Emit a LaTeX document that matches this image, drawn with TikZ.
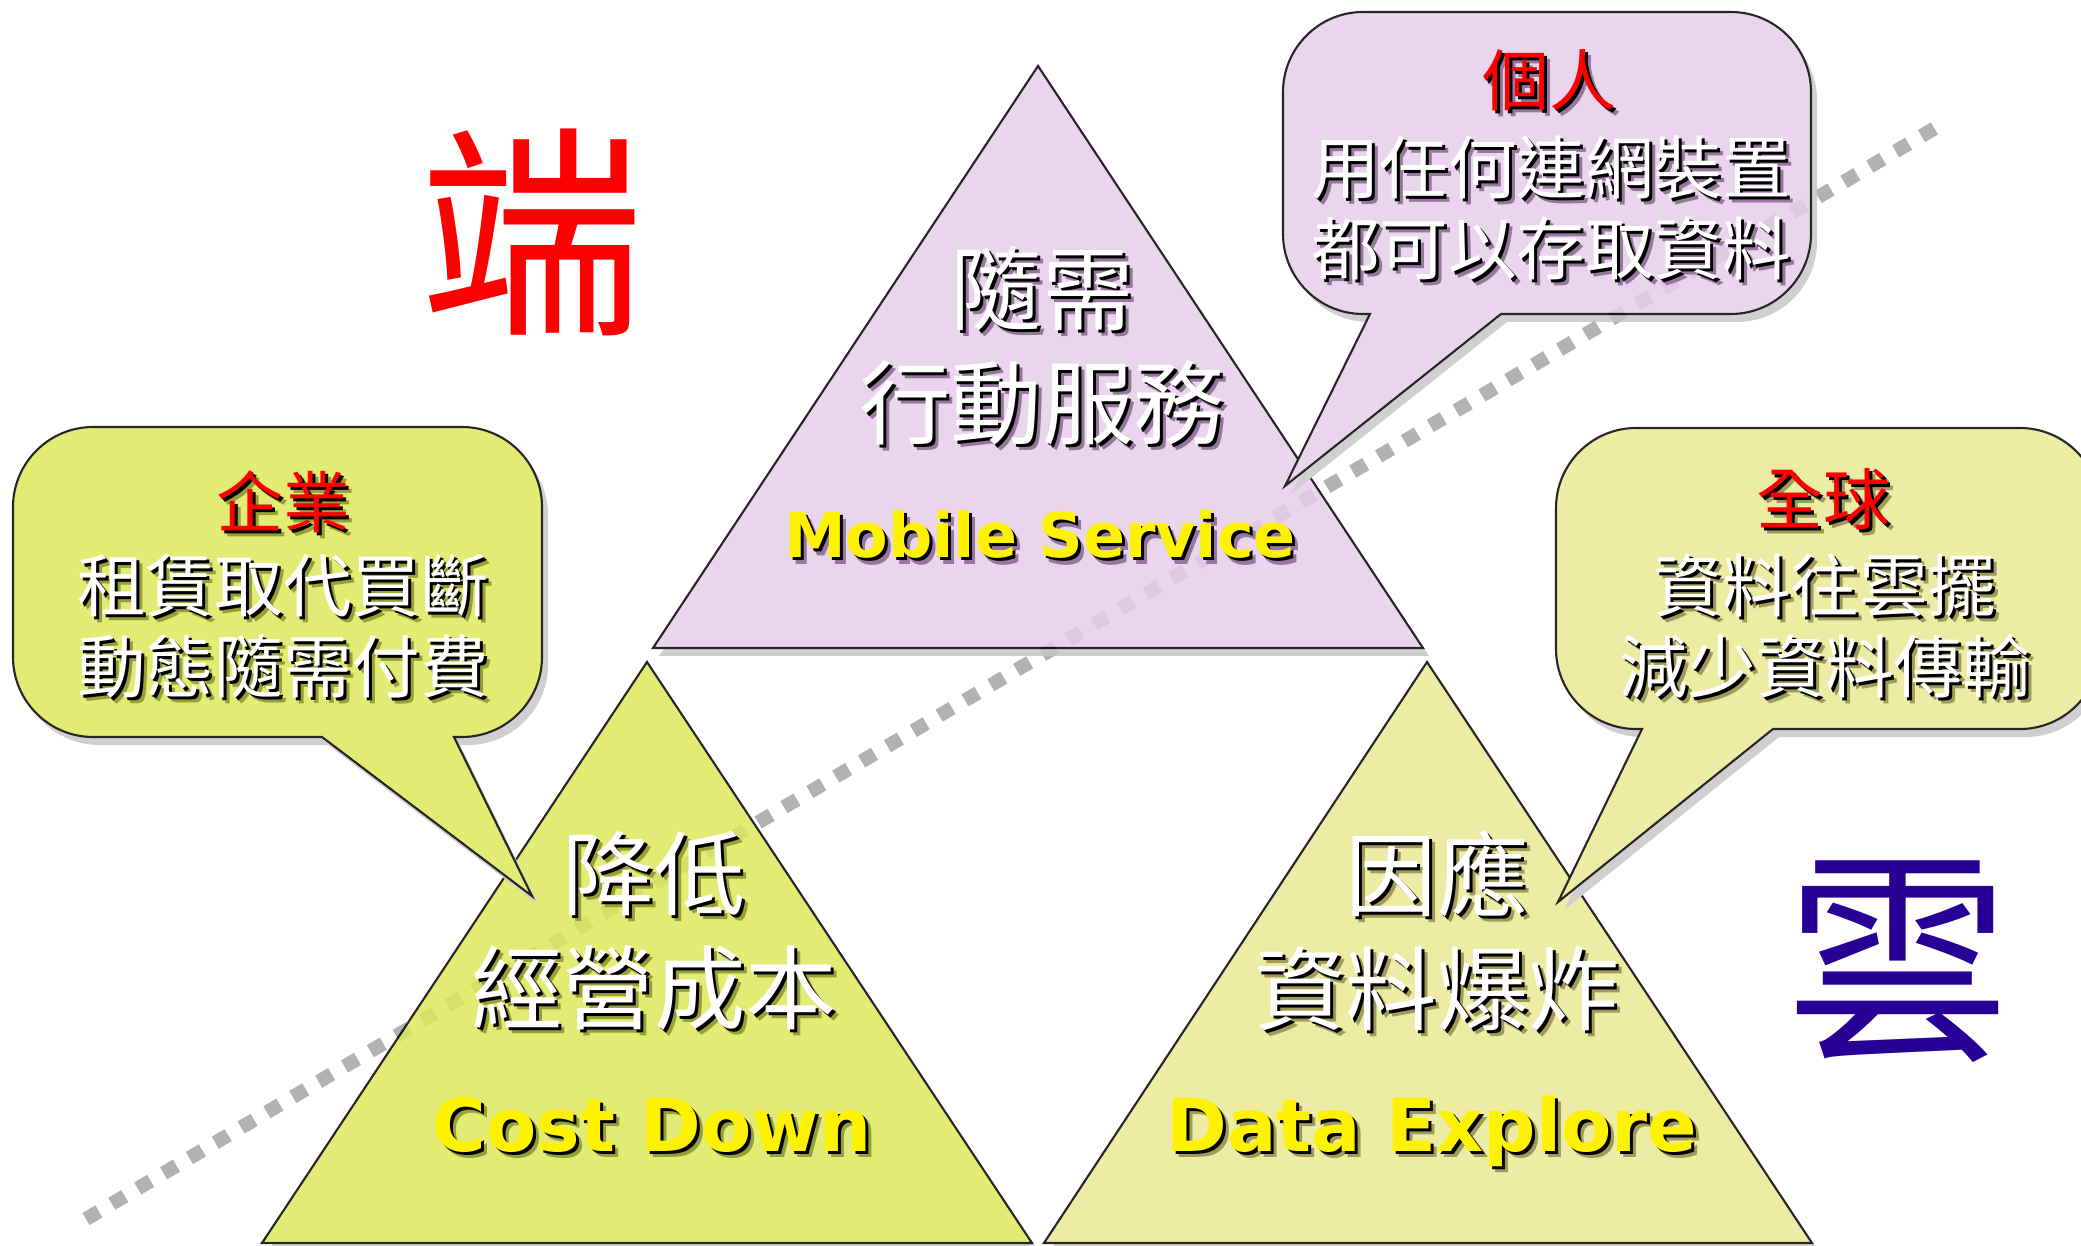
\documentclass[tikz,border=0pt]{standalone}
\usepackage{fontspec}
\newfontfamily\cjkfont{Noto Sans CJK TC}
\newfontfamily\latinfont{DejaVu Sans}

\definecolor{mobfill}{RGB}{230,207,233}
\definecolor{costfill}{RGB}{221,233,92}
\definecolor{datafill}{RGB}{233,233,148}
\definecolor{mobshade}{RGB}{150,118,156}
\definecolor{costshade}{RGB}{150,160,55}
\definecolor{datashade}{RGB}{160,155,90}
\definecolor{yunblue}{RGB}{40,0,150}

\tikzset{
  panel/.style={draw=black, line width=0.6pt, line join=miter},
  dropshade/.style={preaction={fill=black!22, transform canvas={shift={(6,8)}}}},
  cloudline/.style={draw=black!30, line width=0.14cm, dash pattern=on 0.15cm off 0.15cm},
  bigzh/.style={font=\cjkfont\fontsize{26pt}{32.5pt}\selectfont, align=center, inner sep=0pt},
  smallzh/.style={font=\cjkfont\fontsize{19.5pt}{23pt}\selectfont, align=center, inner sep=0pt},
  headzh/.style={font=\cjkfont\fontsize{19pt}{23pt}\selectfont, inner sep=0pt},
  smallen/.style={font=\latinfont\bfseries\fontsize{17.6pt}{20pt}\selectfont, inner sep=0pt, anchor=base},
  bigen/.style={font=\latinfont\bfseries\fontsize{20.8pt}{24pt}\selectfont, inner sep=0pt, anchor=base},
  bigchar/.style={font=\cjkfont\fontsize{64pt}{70pt}\selectfont, inner sep=0pt}
}

% text with a dark and a black drop shadow
\newcommand{\shtext}[6]{%
  \node[#3, text=#5, shift={(6,6)}] (#1-far) at #2 {#6};
  \node[#3, text=black, shift={(3,3)}] (#1-near) at #2 {#6};
  \node[#3, text=#4] (#1) at #2 {#6};
}

\begin{document}
\begin{tikzpicture}[x=0.01cm, y=-0.01cm]
  \useasboundingbox (0,0) rectangle (2081,1246);
  \clip (0,0) rectangle (2081,1246);

  \coordinate (mobTop) at (1038,66);  \coordinate (mobL) at (653,648);   \coordinate (mobR) at (1423,648);
  \coordinate (costTop) at (647,662); \coordinate (costL) at (262,1243); \coordinate (costR) at (1032,1243);
  \coordinate (dataTop) at (1427,662);\coordinate (dataL) at (1044,1243);\coordinate (dataR) at (1812,1243);
  \coordinate (entTip) at (532,896);  \coordinate (perTip) at (1285,486); \coordinate (gloTip) at (1558,902);
  \coordinate (lineS) at (86,1219);   \coordinate (lineE) at (1942,124);

  \draw[cloudline] (lineS) -- (lineE);

  \begin{scope}[transparency group, opacity=0.85]
    \path (0,0) rectangle (2081,1246);
    \filldraw[panel, dropshade, fill=mobfill] (mobTop) -- (mobL) -- (mobR) -- cycle;
    \filldraw[panel, dropshade, fill=costfill] (costTop) -- (costL) -- (costR) -- cycle;
    \filldraw[panel, dropshade, fill=datafill] (dataTop) -- (dataL) -- (dataR) -- cycle;
    % callouts
    \filldraw[panel, dropshade, fill=costfill] (93,427) -- (462,427) .. controls (506,427) and (542,463) .. (542,507)
      -- (542,657) .. controls (542,701) and (506,737) .. (462,737) -- (454,737) -- (entTip) -- (322,737)
      -- (93,737) .. controls (49,737) and (13,701) .. (13,657) -- (13,507) .. controls (13,463) and (49,427) .. (93,427) -- cycle;
    \filldraw[panel, dropshade, fill=mobfill] (1363,12) -- (1731,12) .. controls (1775,12) and (1811,48) .. (1811,92)
      -- (1811,234) .. controls (1811,278) and (1775,314) .. (1731,314) -- (1501,314) -- (perTip) -- (1370,314)
      -- (1363,314) .. controls (1319,314) and (1283,278) .. (1283,234) -- (1283,92) .. controls (1283,48) and (1319,12) .. (1363,12) -- cycle;
    \filldraw[panel, dropshade, fill=datafill] (1636,428) -- (2020,428) .. controls (2064,428) and (2100,464) .. (2100,508)
      -- (2100,649) .. controls (2100,693) and (2064,729) .. (2020,729) -- (1773,729) -- (gloTip) -- (1642,729)
      -- (1636,729) .. controls (1592,729) and (1556,693) .. (1556,649) -- (1556,508) .. controls (1556,464) and (1592,428) .. (1636,428) -- cycle;
  \end{scope}

  % triangles
  \shtext{mobZh}{(1042,346)}{bigzh}{white}{mobshade}{隨需\\行動服務}
  \shtext{mobEn}{(1040,558)}{smallen}{yellow}{mobshade}{Mobile Service}
  \shtext{costZh}{(654,931)}{bigzh}{white}{costshade}{降低\\經營成本}
  \shtext{costEn}{(652,1151)}{bigen}{yellow}{costshade}{Cost Down}
  \shtext{dataZh}{(1437,931)}{bigzh}{white}{datashade}{因應\\資料爆炸}
  \shtext{dataEn}{(1432,1151)}{bigen}{yellow}{datashade}{Data Explore}

  % callouts
  \shtext{entHead}{(283,502)}{headzh}{red}{costshade}{企業}
  \shtext{entBody}{(283,626)}{smallzh}{white}{costshade}{租賃取代買斷\\動態隨需付費}
  \shtext{perHead}{(1549,80)}{headzh}{red}{mobshade}{個人}
  \shtext{perBody}{(1551,208)}{smallzh}{white}{mobshade}{用任何連網裝置\\都可以存取資料}
  \shtext{gloHead}{(1823,499)}{headzh}{red}{datashade}{全球}
  \shtext{gloBody}{(1825,626)}{smallzh}{white}{datashade}{資料往雲擺\\減少資料傳輸}

  \node[bigchar, text=red] (duan) at (532,232) {端};
  \node[bigchar, text=yunblue] (yun) at (1898,962) {雲};
\end{tikzpicture}
\end{document}
